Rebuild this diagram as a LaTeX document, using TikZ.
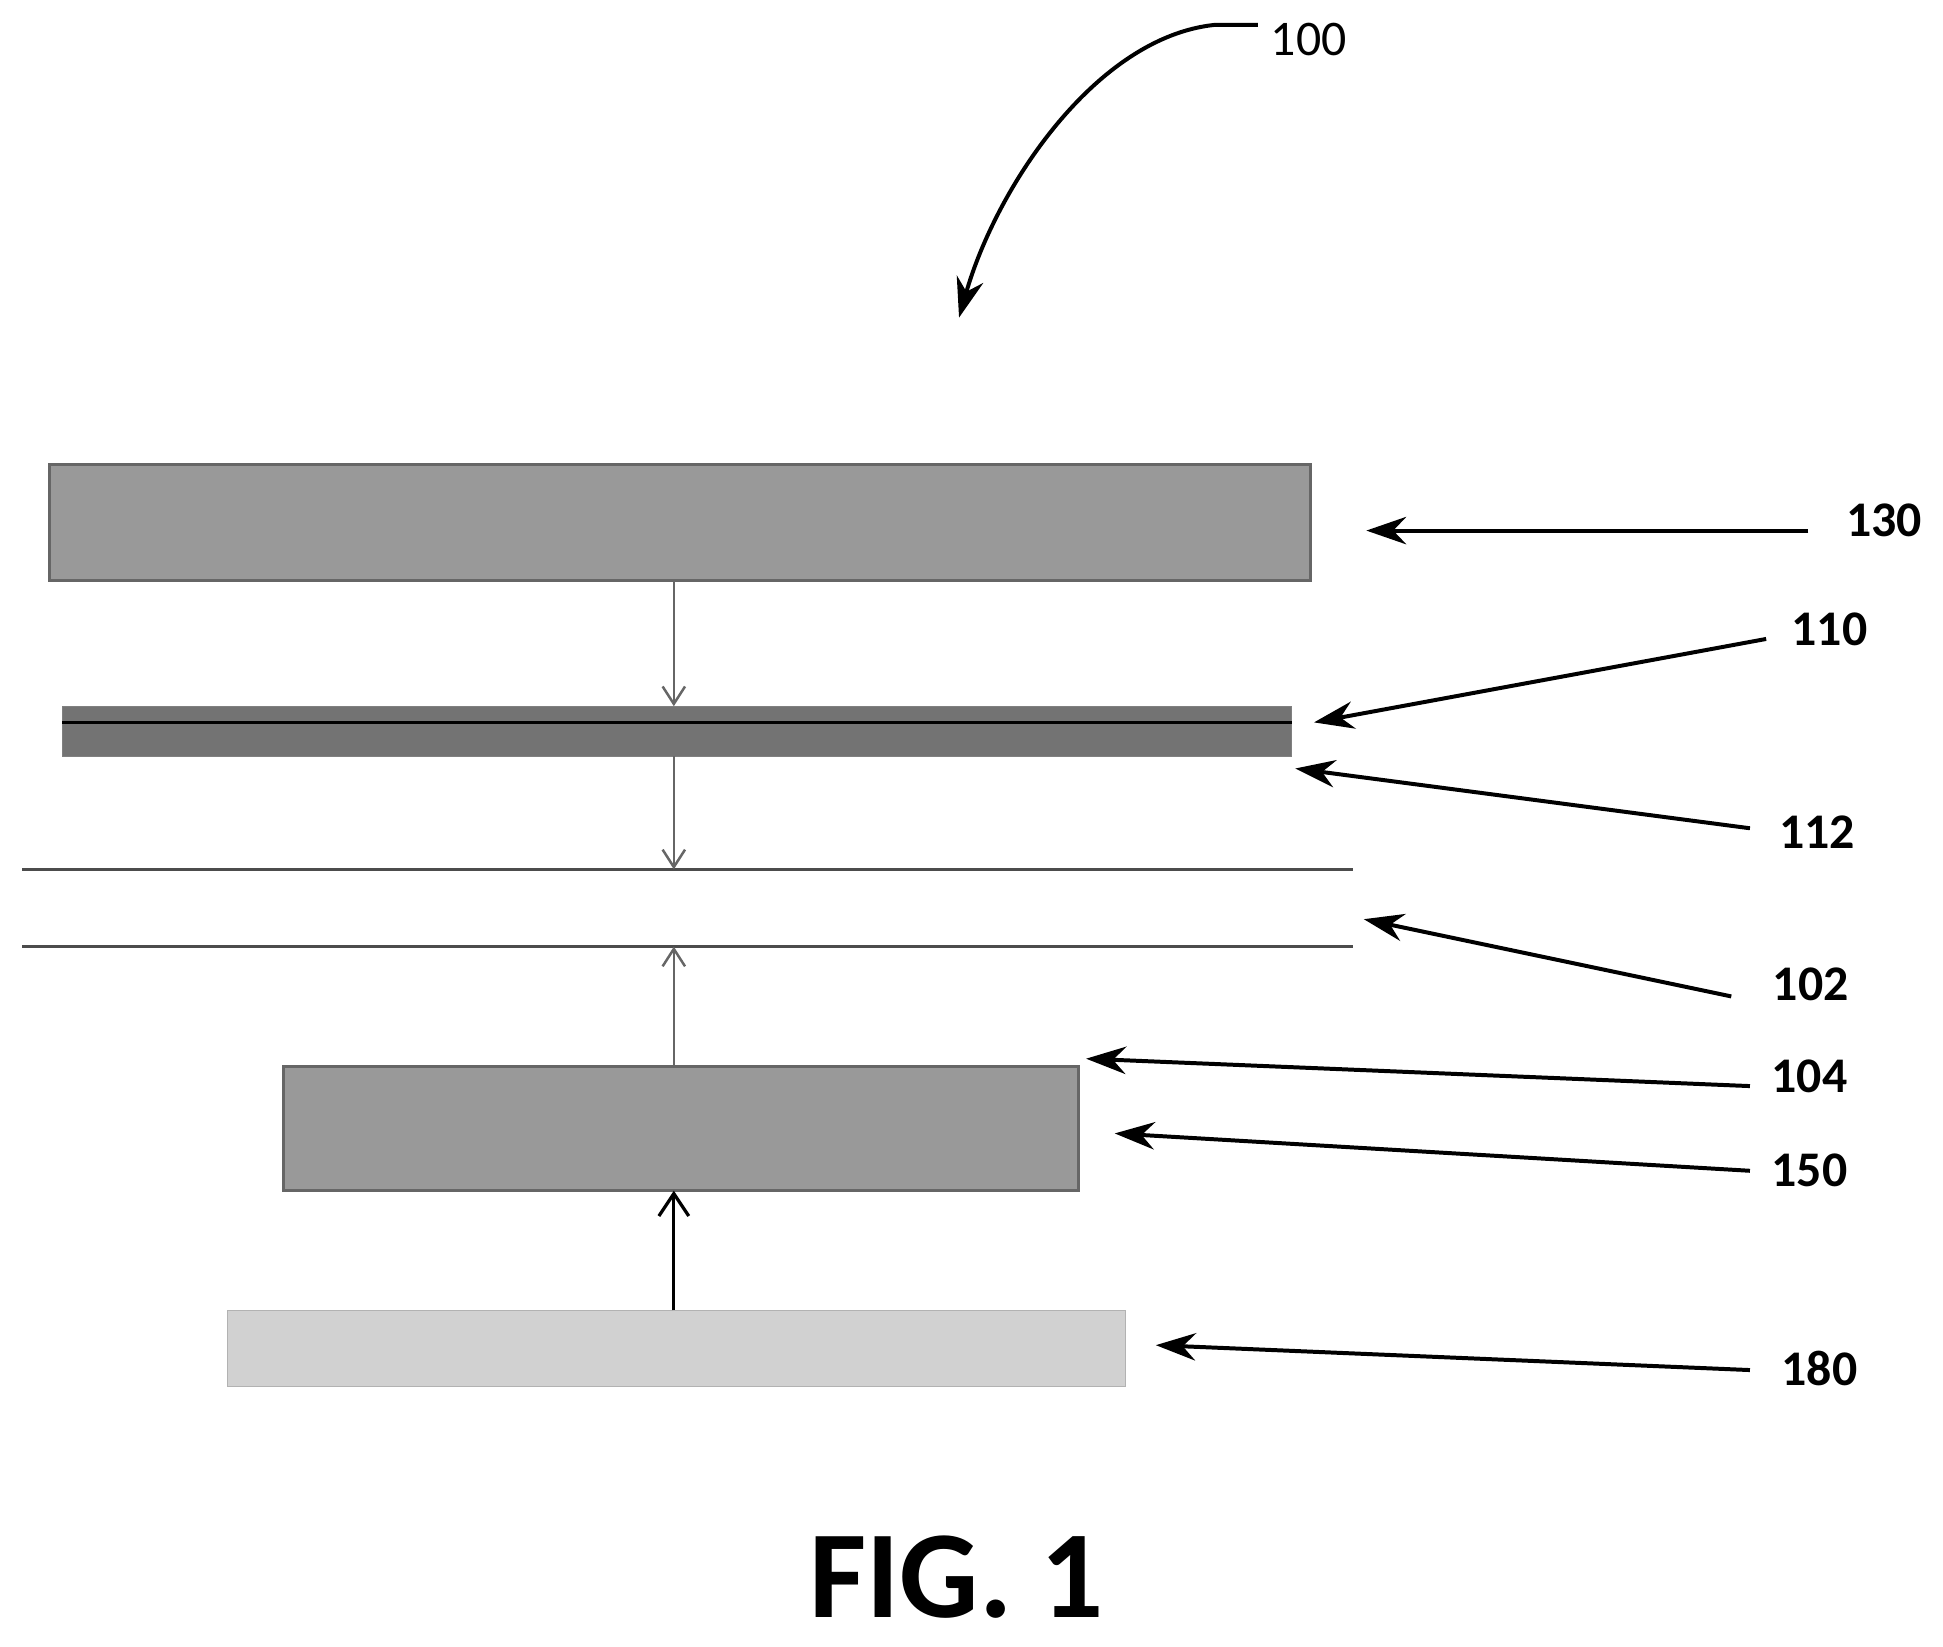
\documentclass[tikz,border=0pt]{standalone}
\usepackage{fontspec}
\setmainfont{Carlito}
\usetikzlibrary{arrows.meta}
\begin{document}
\begin{tikzpicture}[x=0.5pt,y=-0.5pt,
  lbl/.style={font=\bfseries\fontsize{20}{24}\selectfont,anchor=west,inner sep=0},
  ptr/.style={line width=1.6pt,-{Stealth[length=16pt,width=11pt]}},
  box/.style={draw=black!60,line width=1.2pt,fill=black!40},
  flow/.style={line width=1pt,draw=black!60,-{Straight Barb[length=7pt,width=9pt]}}]
\useasboundingbox (0,0) rectangle (1560,1322);
\node[box,minimum width=1012*0.5pt,minimum height=93*0.5pt,inner sep=0] (b130) at (546,419.5) {};
\node[draw=black!50,fill=black!55,minimum width=987*0.5pt,minimum height=40*0.5pt,inner sep=0] (b110) at (543.5,587) {};
\draw[line width=1.4pt] (50,580) -- (1037,580);
\coordinate (l1a) at (18,698); \coordinate (l1b) at (1086,698);
\coordinate (l2a) at (18,760); \coordinate (l2b) at (1086,760);
\draw[line width=1.3pt,black!70] (l1a) -- (l1b);
\draw[line width=1.3pt,black!70] (l2a) -- (l2b);
\node[box,minimum width=638*0.5pt,minimum height=100*0.5pt,inner sep=0] (b150) at (547,906) {};
\node[draw=black!30,fill=black!18,minimum width=721*0.5pt,minimum height=61*0.5pt,inner sep=0] (b180) at (543.5,1082.5) {};
\draw[flow] (541,466) -- (541,567);
\draw[flow] (541,607) -- (541,698);
\draw[flow] (541,856) -- (541,760);
\draw[line width=1.3pt,-{Straight Barb[length=9pt,width=12pt]}] (541,1052) -- (541,956);
\node[lbl] (t130) at (1482,418) {130};
\node[lbl] (t110) at (1438,505) {110};
\node[lbl] (t112) at (1428,668) {112};
\node[lbl] (t102) at (1423,790) {102};
\node[lbl] (t104) at (1422,864) {104};
\node[lbl] (t150) at (1422,940) {150};
\node[lbl] (t180) at (1430,1099) {180};
\coordinate (s130) at (1452,426); \coordinate (e130) at (1097,426);
\coordinate (s110) at (1418,513); \coordinate (e110) at (1055,580);
\coordinate (s112) at (1405,665); \coordinate (e112) at (1040,617);
\coordinate (s102) at (1390,800); \coordinate (e102) at (1095,738);
\coordinate (s104) at (1405,872); \coordinate (e104) at (872,850);
\coordinate (s150) at (1405,940); \coordinate (e150) at (895,910);
\coordinate (s180) at (1405,1100); \coordinate (e180) at (928,1080);
\foreach \n in {130,110,112,102,104,150,180} \draw[ptr] (s\n) -- (e\n);
\node[font=\fontsize{20}{24}\selectfont,anchor=west,inner sep=0] (t100) at (1020,32) {100};
\coordinate (c0) at (1010,20);
\draw[line width=1.6pt,-{Stealth[length=16pt,width=11pt]}] (c0) -- (975,20) .. controls (880,30) and (800,150) .. (770,255);
\node[font=\bfseries\fontsize{50}{60}\selectfont,inner sep=0] (fig) at (768,1266) {FIG. 1};
\end{tikzpicture}
\end{document}
